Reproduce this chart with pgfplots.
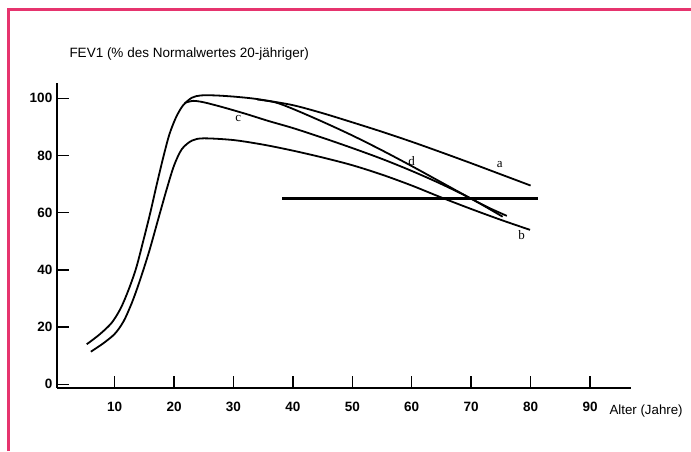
\documentclass[border=0pt]{standalone}
\usepackage{pgfplots}
\pgfplotsset{compat=1.18}
\usepackage{fontspec}
\setmainfont{Liberation Sans}
\newfontfamily\seriffont{Liberation Serif}
\definecolor{framepink}{RGB}{230,52,110}
\begin{document}
\begin{tikzpicture}
\path[use as bounding box] (0,0) rectangle (691pt,451pt);
\fill[white] (0,0) rectangle (691pt,451pt);
\draw[framepink, line width=3pt] (8pt,0) -- (8pt,441pt) -- (691pt,441pt);
\node[anchor=base west, inner sep=0, font=\fontsize{13.5}{13.5}\selectfont] at (69.3pt,393.8pt) {FEV1 (\% des Normalwertes 20-jähriger)};
\node[anchor=base west, inner sep=0, font=\fontsize{13.3}{13.3}\selectfont] at (609.3pt,37.0pt) {Alter (Jahre)};
\begin{axis}[
 at={(57.3pt,63.3pt)}, anchor=south west, scale only axis,
 width=573.7pt, height=304.7pt,
 xmin=0.35, xmax=96.9, ymin=-1.19, ymax=105.35,
 axis lines=left, axis line style={line width=2pt, -},
 xtick={10,20,...,90}, ytick={0,20,...,100},
 tick align=inside, major tick length=12pt, tick style={line width=1.5pt, black},
 /pgf/number format/assume math mode=true,
 ticklabel style={font=\fontsize{13.5}{13.5}\selectfont\bfseries},
 xticklabel style={yshift=-11pt},
 yticklabel style={xshift=-1.5pt},
 clip=false,
]
% curve a (upper, incl. common rising part)
\addplot[black, line width=1.8pt, no marks, smooth, tension=0.5] coordinates {(5.3,14.0) (7.5,17.5) (9.5,21.5) (11,26.5) (12.3,32.8) (13.6,40.5) (14.8,50) (16,60) (17.1,70) (18.2,79.5) (19.2,87.3) (20.3,93.2) (21.5,97.5) (23,100.2) (24.5,101) (27,101) (30,100.6) (33,100.0) (35,99.4) (40,97.6) (45,94.8) (50,91.6) (55,88.3) (60,84.8) (65,81.1) (70,77.3) (75,73.4) (80,69.5)};
% curve d
\addplot[black, line width=1.8pt, no marks, smooth, tension=0.5] coordinates {(34,99.6) (37,98.6) (40,96.3) (45,91.8) (50,87.0) (55,81.8) (60,76.3) (65,70.6) (70,64.9) (73,61.7) (76,58.9)};
% curve c
\addplot[black, line width=1.8pt, no marks, smooth, tension=0.5] coordinates {(21.8,98.4) (23.2,99.1) (25,98.6) (28,97.0) (32,94.6) (36,92.0) (40,89.6) (45,86.2) (50,82.6) (55,78.8) (60,74.6) (65,70.0) (70,64.9) (75.3,58.6)};
% curve b (lower)
\addplot[black, line width=1.8pt, no marks, smooth, tension=0.5] coordinates {(6.0,11.4) (8,14.2) (10,17.6) (11.5,22.0) (12.9,28.5) (14.2,36.0) (15.8,46.4) (17.3,57.5) (18.8,68.5) (20,76.5) (21.3,82.2) (23,85.2) (25,86.0) (30,85.4) (35,83.8) (40,81.7) (45,79.3) (50,76.6) (55,73.3) (60,69.5) (65,65.3) (70,61.3) (75,57.5) (79.9,54.0)};
% horizontal reference line
\addplot[black, no marks, line width=2.2pt] coordinates {(38.2,65.0) (81.3,65.0)};
\node[font=\seriffont\fontsize{13}{13}\selectfont] at (axis cs:74.8,77.0) {a};
\node[font=\seriffont\fontsize{13}{13}\selectfont] at (axis cs:78.5,52.2) {b};
\node[font=\seriffont\fontsize{13}{13}\selectfont] at (axis cs:30.8,93.0) {c};
\node[font=\seriffont\fontsize{13}{13}\selectfont] at (axis cs:60.0,78.0) {d};
\end{axis}
\end{tikzpicture}
\end{document}
